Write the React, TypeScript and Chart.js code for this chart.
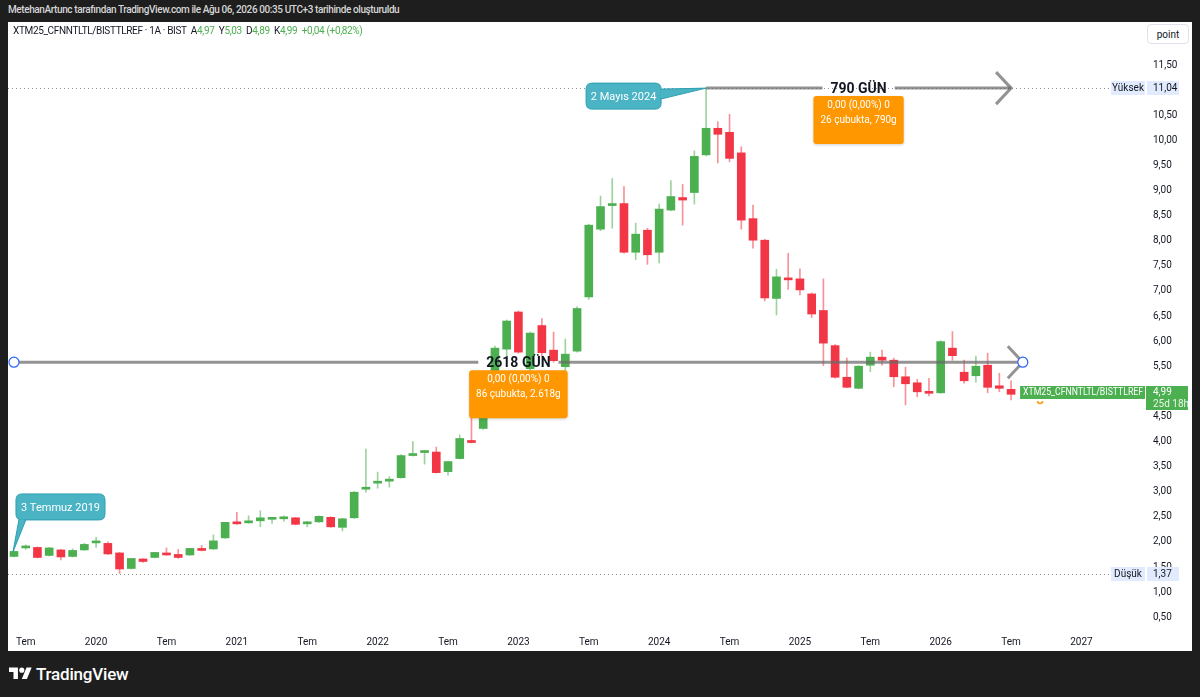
import React, { useEffect, useRef } from "react";
import { Chart, registerables } from "chart.js";

Chart.register(...registerables);

const FONT = "Roboto, 'Noto Sans', 'DejaVu Sans', sans-serif";

// Monthly candles, index 0 = first bar (3 Temmuz 2019)
const opens = [
  1.71, 1.88, 1.89, 1.73, 1.84, 1.71, 1.84, 1.98, 1.97, 1.78,
  1.47, 1.66, 1.69, 1.78, 1.75, 1.74, 1.86, 1.86, 2.08, 2.40,
  2.38, 2.42, 2.45, 2.46, 2.48, 2.36, 2.40, 2.49, 2.29, 2.48,
  3.05, 3.17, 3.21, 3.28, 3.72, 3.78, 3.79, 3.40, 3.66, 4.02,
  4.26, 4.92, 5.84, 6.58, 5.45, 6.31, 5.82, 5.49, 5.80, 6.88,
  8.23, 8.70, 8.74, 7.77, 8.21, 7.77, 8.61, 8.86, 8.96, 9.71,
  10.24, 10.16, 9.75, 8.44, 8.01, 6.85, 7.24, 7.24, 6.94, 6.61,
  5.91, 5.28, 5.06, 5.52, 5.68, 5.62, 5.29, 5.17, 5.00, 4.97,
  5.86, 5.38, 5.31, 5.52, 5.11, 5.04,
];
const highs = [
  1.82, 1.94, 1.90, 1.89, 1.85, 1.86, 1.97, 2.09, 2.00, 1.79,
  1.67, 1.67, 1.79, 1.88, 1.85, 1.87, 1.93, 2.14, 2.39, 2.59,
  2.52, 2.62, 2.47, 2.52, 2.49, 2.41, 2.52, 2.50, 2.47, 3.00,
  3.85, 3.39, 3.30, 3.74, 4.00, 3.82, 3.89, 3.61, 4.13, 4.54,
  4.95, 5.90, 6.42, 6.60, 6.18, 6.45, 6.18, 6.04, 6.69, 8.33,
  8.89, 9.24, 9.08, 8.35, 8.25, 8.73, 9.20, 9.12, 9.79, 11.04,
  10.37, 10.52, 9.87, 8.71, 8.03, 7.43, 7.75, 7.44, 6.96, 7.24,
  5.93, 5.66, 5.51, 5.78, 5.82, 5.66, 5.48, 5.24, 5.26, 6.01,
  6.19, 5.62, 5.70, 5.76, 5.36, 5.21,
];
const lows = [
  1.70, 1.85, 1.68, 1.72, 1.64, 1.70, 1.83, 1.89, 1.75, 1.37,
  1.46, 1.59, 1.68, 1.73, 1.67, 1.73, 1.82, 1.85, 2.07, 2.35,
  2.37, 2.30, 2.37, 2.41, 2.34, 2.30, 2.39, 2.29, 2.22, 2.47,
  2.99, 3.07, 3.09, 3.27, 3.71, 3.55, 3.37, 3.33, 3.65, 3.97,
  4.24, 4.85, 5.69, 5.76, 5.40, 5.70, 5.58, 5.25, 5.78, 6.83,
  8.20, 8.25, 7.75, 7.62, 7.53, 7.56, 8.60, 8.31, 8.73, 9.69,
  9.55, 9.57, 8.23, 7.85, 6.80, 6.52, 7.03, 6.92, 6.47, 5.51,
  5.26, 5.07, 5.05, 5.39, 5.52, 5.09, 4.73, 4.89, 4.91, 4.96,
  5.62, 5.16, 5.18, 4.97, 4.99, 4.83,
];
const closes = [
  1.81, 1.90, 1.69, 1.88, 1.70, 1.83, 1.95, 2.00, 1.76, 1.46,
  1.67, 1.61, 1.79, 1.74, 1.69, 1.87, 1.83, 2.02, 2.39, 2.36,
  2.42, 2.48, 2.46, 2.47, 2.35, 2.40, 2.51, 2.30, 2.46, 2.99,
  3.08, 3.21, 3.24, 3.72, 3.76, 3.80, 3.38, 3.60, 4.06, 3.98,
  4.92, 5.86, 6.40, 5.78, 6.16, 5.77, 5.61, 5.74, 6.65, 8.31,
  8.68, 8.72, 7.77, 8.13, 7.72, 8.63, 8.88, 8.81, 9.68, 10.24,
  10.12, 9.64, 8.41, 8.01, 6.86, 7.28, 7.22, 7.02, 6.54, 5.96,
  5.28, 5.08, 5.50, 5.68, 5.62, 5.29, 5.15, 4.99, 4.96, 5.99,
  5.71, 5.21, 5.50, 5.08, 5.06, 4.94,
];

const xTickIndex = [1, 7, 13, 19, 25, 31, 37, 43, 49, 55, 61, 67, 73, 79, 85, 91];
const xTickLabels = [
  "Tem", "2020", "Tem", "2021", "Tem", "2022", "Tem", "2023",
  "Tem", "2024", "Tem", "2025", "Tem", "2026", "Tem", "2027",
];
const yTickValues = [
  0.5, 1, 1.5, 2, 2.5, 3, 3.5, 4, 4.5, 5, 5.5, 6,
  6.5, 7, 7.5, 8, 8.5, 9, 9.5, 10, 10.5, 11, 11.5,
];

const highPrice = 11.04;
const lowPrice = 1.37;
const lastPrice = 4.99;
const symbolName = "XTM25_CFNNTLTL/BISTTLREF";
const countdown = "25d 18h";

const longMeasure = { from: 0, to: 86, price: 5.58, title: "2618 GÜN", lines: ["0,00 (0,00%) 0", "86 çubukta, 2.618g"], handles: true };
const shortMeasure = { from: 59, to: 85, price: 11.04, title: "790 GÜN", lines: ["0,00 (0,00%) 0", "26 çubukta, 790g"], handles: false };
const noteStart = { index: 0, price: 1.8, text: "3 Temmuz 2019" };
const notePeak = { index: 59, price: 11.04, text: "2 Mayıs 2024" };

const UP = "#4caf50";
const DOWN = "#f23645";
const UP_WICK = "rgba(76,175,80,0.55)";
const DOWN_WICK = "rgba(242,54,69,0.55)";

const fmt = (v: number) => v.toFixed(2).replace(".", ",");

function roundRect(ctx: CanvasRenderingContext2D, x: number, y: number, w: number, h: number, r: number) {
  ctx.beginPath();
  ctx.moveTo(x + r, y);
  ctx.lineTo(x + w - r, y);
  ctx.quadraticCurveTo(x + w, y, x + w, y + r);
  ctx.lineTo(x + w, y + h - r);
  ctx.quadraticCurveTo(x + w, y + h, x + w - r, y + h);
  ctx.lineTo(x + r, y + h);
  ctx.quadraticCurveTo(x, y + h, x, y + h - r);
  ctx.lineTo(x, y + r);
  ctx.quadraticCurveTo(x, y, x + r, y);
  ctx.closePath();
}

const annotPlugin = {
  id: "tvAnnotations",
  afterDraw(chart: any) {
    const ctx: CanvasRenderingContext2D = chart.ctx;
    const xs = chart.scales.x;
    const ys = chart.scales.y;
    const area = chart.chartArea;
    const px = (i: number) => xs.getPixelForValue(i);
    const py = (v: number) => ys.getPixelForValue(v);
    ctx.save();

    // dotted high / low lines
    ctx.strokeStyle = "rgba(120,123,134,0.85)";
    ctx.lineWidth = 1;
    ctx.setLineDash([1, 3]);
    [highPrice, lowPrice].forEach((p) => {
      const y = Math.round(py(p)) + 0.5;
      ctx.beginPath();
      ctx.moveTo(area.left, y);
      ctx.lineTo(area.right + 11, y);
      ctx.stroke();
    });
    ctx.setLineDash([]);

    // measure arrows
    const drawMeasure = (m: any) => {
      const x1 = px(m.from);
      const x2 = px(m.to);
      const y = py(m.price);
      const mid = (x1 + x2) / 2;
      ctx.font = `bold 14px ${FONT}`;
      const tw = ctx.measureText(m.title).width;
      ctx.strokeStyle = "rgba(105,105,105,0.72)";
      ctx.lineWidth = 3;
      ctx.lineCap = "butt";
      ctx.beginPath();
      ctx.moveTo(x1, y);
      ctx.lineTo(mid - tw / 2 - 8, y);
      ctx.moveTo(mid + tw / 2 + 8, y);
      ctx.lineTo(x2, y);
      ctx.stroke();
      ctx.beginPath();
      ctx.moveTo(x2 - 15, y - 16);
      ctx.lineTo(x2, y);
      ctx.lineTo(x2 - 15, y + 16);
      ctx.stroke();
      ctx.fillStyle = "#131722";
      ctx.textAlign = "center";
      ctx.textBaseline = "middle";
      ctx.fillText(m.title, mid, y + 1);
      if (m.handles) {
        [x1, x2].forEach((hx) => {
          ctx.beginPath();
          ctx.arc(hx, y, 5, 0, Math.PI * 2);
          ctx.fillStyle = "#ffffff";
          ctx.fill();
          ctx.strokeStyle = "#2962ff";
          ctx.lineWidth = 1.2;
          ctx.stroke();
        });
      }
      // info box
      ctx.font = `10px ${FONT}`;
      const bw = Math.max(...m.lines.map((l: string) => ctx.measureText(l).width)) + 14;
      const bx = mid - bw / 2;
      const by = y + 8;
      ctx.shadowColor = "rgba(0,0,0,0.18)";
      ctx.shadowBlur = 3;
      ctx.shadowOffsetY = 1;
      roundRect(ctx, bx, by, bw, 48, 3);
      ctx.fillStyle = "#ff9800";
      ctx.fill();
      ctx.shadowColor = "transparent";
      ctx.fillStyle = "#ffffff";
      ctx.fillText(m.lines[0], mid, by + 9);
      ctx.fillText(m.lines[1], mid, by + 24);
    };
    drawMeasure(longMeasure);
    drawMeasure(shortMeasure);

    // callouts
    const calloutFill = "#4ab4c4";
    const calloutStroke = "#2c9fb1";
    const drawCallout = (tipX: number, tipY: number, bx: number, by: number, bw: number, bh: number, tail: number[][], text: string) => {
      ctx.fillStyle = calloutFill;
      ctx.strokeStyle = calloutStroke;
      ctx.lineWidth = 1;
      roundRect(ctx, bx, by, bw, bh, 6);
      ctx.fill();
      ctx.stroke();
      ctx.beginPath();
      ctx.moveTo(tail[0][0], tail[0][1]);
      ctx.lineTo(tipX, tipY);
      ctx.lineTo(tail[1][0], tail[1][1]);
      ctx.closePath();
      ctx.fill();
      ctx.beginPath();
      ctx.moveTo(tail[0][0], tail[0][1]);
      ctx.lineTo(tipX, tipY);
      ctx.lineTo(tail[1][0], tail[1][1]);
      ctx.stroke();
      ctx.fillStyle = "#ffffff";
      ctx.font = `11px ${FONT}`;
      ctx.textAlign = "center";
      ctx.textBaseline = "middle";
      ctx.fillText(text, bx + bw / 2, by + bh / 2 + 1);
    };
    {
      const tx = px(noteStart.index) - 1;
      const ty = py(noteStart.price);
      const bx = tx + 3, by = ty - 58, bw = 89, bh = 26;
      drawCallout(tx, ty, bx, by, bw, bh, [[bx + 3, by + bh - 0.5], [bx + 10, by + bh - 0.5]], noteStart.text);
    }
    {
      const tx = px(notePeak.index);
      const ty = py(notePeak.price);
      const bx = tx - 120, by = ty - 5, bw = 75, bh = 26;
      drawCallout(tx, ty, bx, by, bw, bh, [[bx + bw - 0.5, ty + 1], [bx + bw - 0.5, ty + 11]], notePeak.text);
    }

    // right-side price tags
    ctx.font = `10px ${FONT}`;
    ctx.textBaseline = "middle";
    const tagLeft = area.right + 11;
    const valLeft = area.right + 47;
    const drawInfoTag = (price: number, name: string) => {
      const y = Math.round(py(price));
      ctx.fillStyle = "#e1ebfd";
      ctx.fillRect(tagLeft, y - 7, 34, 14);
      ctx.fillRect(valLeft, y - 7, 32, 14);
      ctx.fillStyle = "#131722";
      ctx.textAlign = "center";
      ctx.fillText(name, tagLeft + 17, y + 0.5);
      ctx.textAlign = "left";
      ctx.fillText(fmt(price), valLeft + 6, y + 0.5);
    };
    drawInfoTag(highPrice, "Yüksek");
    drawInfoTag(lowPrice, "Düşük");

    // current price tag
    {
      const y = Math.round(py(lastPrice));
      ctx.fillStyle = UP;
      ctx.fillRect(valLeft - 1, y - 6, 42, 24);
      ctx.fillStyle = "#ffffff";
      ctx.textAlign = "left";
      ctx.fillText(fmt(lastPrice), valLeft + 6, y + 0.5);
      ctx.fillStyle = "rgba(255,255,255,0.9)";
      ctx.fillText(countdown, valLeft + 6, y + 12.5);
      const lx = px(85) + 9;
      const lw = valLeft - 2 - lx;
      ctx.fillStyle = UP;
      ctx.fillRect(lx, y - 6, lw, 13);
      ctx.fillStyle = "#ffffff";
      ctx.fillText(symbolName, lx + 3, y + 0.5, lw - 5);
      ctx.beginPath();
      ctx.strokeStyle = "#ff9800";
      ctx.lineWidth = 1.5;
      ctx.arc(lx + 20, y + 9, 2.5, 0, Math.PI);
      ctx.stroke();
    }
    ctx.restore();
  },
};

function TVChart() {
  const ref = useRef<HTMLCanvasElement | null>(null);
  useEffect(() => {
    if (!ref.current) return;
    const bodyData = opens.map((o, i) => ({ x: i, y: [Math.min(o, closes[i]), Math.max(o, closes[i])] }));
    const wickData = opens.map((_, i) => ({ x: i, y: [lows[i], highs[i]] }));
    const bodyColors = opens.map((o, i) => (closes[i] >= o ? UP : DOWN));
    const wickColors = opens.map((o, i) => (closes[i] >= o ? UP_WICK : DOWN_WICK));
    const chart = new Chart(ref.current, {
      type: "bar",
      data: {
        datasets: [
          {
            data: bodyData as any,
            backgroundColor: bodyColors,
            barThickness: 8,
            grouped: false,
            minBarLength: 2,
            borderWidth: 0,
          } as any,
          {
            data: wickData as any,
            backgroundColor: wickColors,
            barThickness: 1,
            grouped: false,
            borderWidth: 0,
          } as any,
        ],
      },
      options: {
        responsive: false,
        animation: false,
        events: [],
        layout: { padding: 0 },
        plugins: { legend: { display: false }, tooltip: { enabled: false } },
        scales: {
          x: {
            type: "linear",
            offset: false,
            min: -0.51,
            max: 92.58,
            grid: { display: false, drawTicks: false, offset: false },
            border: { display: false },
            afterBuildTicks: (s: any) => {
              s.ticks = xTickIndex.map((v) => ({ value: v }));
            },
            afterFit: (s: any) => {
              s.height = 21;
              s.paddingLeft = 0;
              s.paddingRight = 0;
              s.paddingTop = 0;
              s.paddingBottom = 0;
            },
            ticks: {
              autoSkip: false,
              maxRotation: 0,
              padding: 6,
              color: "#131722",
              font: { size: 10, family: FONT },
              callback: (_v: any, idx: number) => xTickLabels[idx],
            },
          },
          y: {
            type: "linear",
            position: "right",
            min: 0.245,
            max: 12.357,
            grid: { display: false, drawTicks: false },
            border: { display: false },
            afterBuildTicks: (s: any) => {
              s.ticks = yTickValues.map((v) => ({ value: v }));
            },
            afterFit: (s: any) => {
              s.width = 92;
              s.paddingTop = 0;
              s.paddingBottom = 0;
              s.paddingLeft = 0;
              s.paddingRight = 0;
            },
            ticks: {
              padding: 53,
              color: "#131722",
              font: { size: 10, family: FONT },
              callback: (v: any) => fmt(Number(v)),
            },
          },
        },
      } as any,
      plugins: [annotPlugin],
    });
    return () => chart.destroy();
  }, []);
  return <canvas ref={ref} width={1184} height={629} style={{ position: "absolute", left: 0, top: 0, width: 1184, height: 629 }} />;
}

export default function App() {
  const green = "#4caf50";
  return (
    <div style={{ position: "fixed", left: 0, top: 0, width: 1200, height: 697, background: "#1e1e1e", overflow: "hidden", fontFamily: FONT }}>
      <div style={{ position: "absolute", left: 8, top: 4, color: "#d6d6d6", fontSize: 10, fontWeight: 500, letterSpacing: -0.4, whiteSpace: "nowrap" }}>
        MetehanArtunc tarafından TradingView.com ile Ağu 06, 2026 00:35 UTC+3 tarihinde oluşturuldu
      </div>
      <div style={{ position: "absolute", left: 8, top: 22, width: 1184, height: 629, background: "#ffffff" }}>
        <TVChart />
        <div style={{ position: "absolute", left: 5, top: 3, fontSize: 10, letterSpacing: -0.35, color: "#131722", whiteSpace: "nowrap" }}>
          {symbolName} · 1A · BIST&nbsp;&nbsp;A<span style={{ color: green }}>4,97</span>&nbsp;&nbsp;Y<span style={{ color: green }}>5,03</span>&nbsp;&nbsp;D<span style={{ color: green }}>4,89</span>&nbsp;&nbsp;K<span style={{ color: green }}>4,99</span>&nbsp;&nbsp;<span style={{ color: green }}>+0,04 (+0,82%)</span>
        </div>
        <div style={{ position: "absolute", left: 1139, top: 2, width: 40, height: 18, border: "1px solid #e0e3eb", borderRadius: 4, fontSize: 10, color: "#131722", display: "flex", alignItems: "center", justifyContent: "center", background: "#fff" }}>
          point
        </div>
      </div>
      <div style={{ position: "absolute", left: 9, top: 664, display: "flex", alignItems: "center", color: "#ffffff" }}>
        <svg width="23" height="18" viewBox="0 0 36 28">
          <path d="M14 22H7V11H0V4h14v18zM28 22h-8l7.5-18h8L28 22z" fill="#ffffff" />
          <circle cx="20" cy="8" r="4" fill="#ffffff" />
        </svg>
        <span style={{ marginLeft: 4, fontSize: 17, fontWeight: 500, letterSpacing: -0.2 }}>TradingView</span>
      </div>
    </div>
  );
}
